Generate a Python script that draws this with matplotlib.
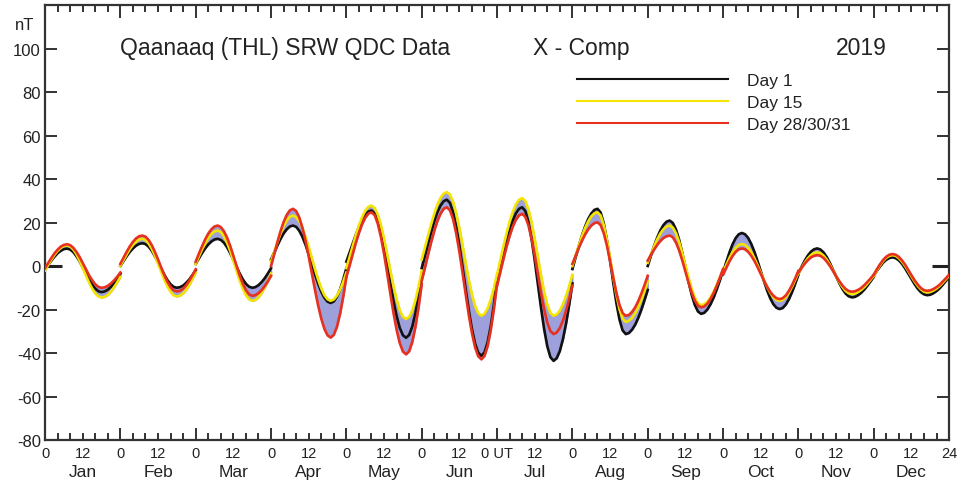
import matplotlib
matplotlib.use("Agg")
import matplotlib.pyplot as plt
import numpy as np

plt.rcParams['font.family'] = ['Liberation Sans', 'DejaVu Sans']
plt.rcParams['axes.unicode_minus'] = False

months = ["Jan", "Feb", "Mar", "Apr", "May", "Jun",
          "Jul", "Aug", "Sep", "Oct", "Nov", "Dec"]
hours = list(range(25))  # UT hour 0..24 inside each month panel

# quiet day curve, day 1 of each month (nT)
day1 = [
    [-1.5, 0.5, 2.5, 4.3, 5.9, 7.0, 7.8, 8.0, 7.6, 6.4, 4.5, 2.2, -0.6, -3.4, -6.2, -8.5, -10.4, -11.6, -12.0, -11.7, -10.9, -9.6, -7.8, -5.8, -3.5],
    [0.0, 2.3, 4.5, 6.5, 8.1, 9.4, 10.2, 10.5, 10.1, 8.9, 7.0, 4.5, 1.7, -1.2, -4.0, -6.5, -8.4, -9.6, -10.0, -9.7, -9.0, -7.7, -6.1, -4.1, -2.0],
    [1.0, 3.5, 5.9, 8.1, 9.9, 11.3, 12.2, 12.5, 12.0, 10.7, 8.6, 5.9, 2.9, -0.4, -3.4, -6.1, -8.2, -9.5, -10.0, -9.7, -8.8, -7.4, -5.6, -3.4, -1.0],
    [3.0, 6.2, 9.4, 12.4, 15.0, 16.9, 18.2, 18.6, 18.0, 16.2, 13.4, 9.7, 5.4, 0.8, -3.8, -8.1, -11.8, -14.6, -16.4, -17.0, -16.3, -14.1, -10.7, -6.2, -1.0],
    [2.0, 6.1, 10.2, 14.3, 18.0, 21.1, 23.5, 25.0, 25.5, 24.3, 20.9, 15.4, 8.4, 0.4, -7.9, -15.9, -22.9, -28.4, -31.8, -33.0, -31.7, -27.8, -21.6, -13.4, -3.7],
    [-1.0, 4.4, 10.1, 15.5, 20.5, 24.7, 27.8, 29.8, 30.5, 29.0, 24.8, 18.1, 9.5, -0.3, -10.5, -20.3, -28.9, -35.6, -39.8, -41.3, -39.7, -35.0, -27.6, -17.7, -6.0],
    [-8.0, -1.6, 4.7, 10.8, 16.2, 20.8, 24.2, 26.3, 27.0, 25.3, 20.3, 12.4, 2.6, -8.3, -19.2, -29.0, -36.9, -41.9, -43.6, -42.4, -39.1, -33.6, -26.4, -17.7, -8.0],
    [-1.4, 3.9, 9.0, 13.8, 18.0, 21.5, 24.1, 25.8, 26.3, 24.6, 19.6, 11.9, 2.5, -7.5, -16.9, -24.6, -29.6, -31.3, -30.8, -29.3, -27.0, -23.8, -20.0, -15.6, -11.0],
    [0.0, 4.7, 9.1, 13.0, 16.3, 18.8, 20.4, 20.9, 19.8, 16.8, 12.1, 6.1, -0.5, -7.2, -13.2, -17.9, -20.9, -22.0, -21.5, -20.0, -17.6, -14.5, -10.7, -6.5, -2.0],
    [-3.0, 1.7, 6.1, 9.9, 12.8, 14.6, 15.2, 14.6, 12.9, 10.1, 6.5, 2.2, -2.3, -6.8, -11.1, -14.7, -17.5, -19.2, -19.8, -19.3, -17.7, -15.2, -11.9, -8.1, -4.0],
    [-3.5, -0.4, 2.4, 4.8, 6.6, 7.7, 8.1, 7.6, 6.3, 4.2, 1.5, -1.6, -4.8, -7.8, -10.5, -12.6, -13.9, -14.4, -14.2, -13.4, -12.3, -10.8, -9.0, -7.0, -5.0],
    [-4.5, -2.2, -0.2, 1.6, 2.9, 3.7, 4.0, 3.6, 2.6, 1.0, -1.1, -3.5, -5.9, -8.3, -10.4, -12.0, -13.0, -13.4, -13.2, -12.5, -11.5, -10.2, -8.6, -6.8, -5.0],
]

# day 15
day15 = [
    [-2.0, 0.5, 2.9, 5.1, 6.9, 8.3, 9.2, 9.5, 9.0, 7.6, 5.4, 2.5, -0.8, -4.2, -7.5, -10.4, -12.6, -14.0, -14.5, -14.2, -13.3, -11.8, -9.8, -7.5, -5.0],
    [0.0, 2.7, 5.3, 7.7, 9.7, 11.2, 12.2, 12.5, 12.0, 10.4, 7.9, 4.8, 1.1, -2.6, -6.3, -9.4, -11.9, -13.5, -14.0, -13.6, -12.6, -10.9, -8.6, -5.9, -3.0],
    [1.0, 4.3, 7.5, 10.4, 12.9, 14.7, 15.9, 16.3, 15.6, 13.7, 10.7, 6.9, 2.4, -2.1, -6.6, -10.4, -13.4, -15.3, -16.0, -15.6, -14.4, -12.4, -9.9, -6.8, -3.5],
    [2.0, 6.4, 10.7, 14.8, 18.3, 20.9, 22.6, 23.2, 22.5, 20.6, 17.5, 13.4, 8.7, 3.6, -1.5, -6.2, -10.3, -13.4, -15.3, -16.0, -15.4, -13.6, -10.9, -7.2, -3.0],
    [-1.0, 4.0, 9.1, 14.1, 18.6, 22.5, 25.4, 27.2, 27.8, 26.7, 23.7, 18.8, 12.5, 5.4, -2.0, -9.1, -15.4, -20.3, -23.3, -24.4, -23.4, -20.5, -15.8, -9.5, -2.2],
    [3.0, 8.4, 13.9, 19.2, 24.1, 28.2, 31.4, 33.3, 34.0, 32.8, 29.5, 24.2, 17.4, 9.6, 1.5, -6.3, -13.1, -18.4, -21.7, -22.9, -22.0, -19.5, -15.4, -10.1, -3.7],
    [-4.0, 2.4, 8.8, 14.9, 20.4, 24.9, 28.3, 30.5, 31.2, 29.9, 26.0, 20.1, 12.5, 4.2, -4.2, -11.8, -17.7, -21.6, -22.9, -22.3, -20.5, -17.6, -13.7, -9.1, -4.0],
    [0.0, 4.7, 9.2, 13.5, 17.3, 20.4, 22.8, 24.2, 24.7, 23.2, 18.8, 12.1, 3.9, -4.9, -13.1, -19.8, -24.2, -25.7, -25.2, -23.9, -21.7, -18.8, -15.3, -11.3, -7.0],
    [1.5, 5.3, 8.9, 12.2, 14.9, 16.9, 18.2, 18.6, 17.7, 15.1, 11.1, 6.0, 0.3, -5.4, -10.5, -14.5, -17.1, -18.0, -17.6, -16.4, -14.4, -11.8, -8.7, -5.2, -1.5],
    [-3.0, 0.4, 3.6, 6.3, 8.3, 9.7, 10.1, 9.7, 8.4, 6.3, 3.6, 0.4, -3.0, -6.3, -9.5, -12.2, -14.3, -15.6, -16.0, -15.6, -14.3, -12.2, -9.5, -6.4, -3.0],
    [-3.5, -0.9, 1.5, 3.5, 5.0, 6.0, 6.3, 5.9, 4.8, 3.0, 0.7, -1.9, -4.7, -7.3, -9.6, -11.4, -12.5, -12.9, -12.7, -12.0, -11.0, -9.7, -8.1, -6.3, -4.5],
    [-4.5, -2.0, 0.3, 2.3, 3.8, 4.7, 5.0, 4.7, 3.6, 2.0, 0.0, -2.3, -4.8, -7.1, -9.1, -10.7, -11.8, -12.1, -11.9, -11.3, -10.4, -9.2, -7.7, -6.1, -4.5],
]

# last day of the month (28/30/31)
day_last = [
    [-1.0, 1.4, 3.7, 5.8, 7.5, 8.9, 9.7, 10.0, 9.6, 8.4, 6.5, 4.2, 1.4, -1.4, -4.2, -6.5, -8.4, -9.6, -10.0, -9.8, -9.1, -8.0, -6.6, -4.9, -3.0],
    [1.0, 3.8, 6.5, 9.0, 11.1, 12.7, 13.7, 14.0, 13.5, 12.0, 9.6, 6.5, 3.0, -0.7, -4.2, -7.3, -9.7, -11.2, -11.7, -11.4, -10.4, -8.8, -6.7, -4.2, -1.5],
    [2.0, 5.6, 9.0, 12.2, 14.9, 16.9, 18.2, 18.6, 17.9, 16.0, 13.0, 9.2, 4.7, 0.2, -4.3, -8.1, -11.1, -13.0, -13.7, -13.4, -12.5, -11.1, -9.2, -7.0, -4.5],
    [0.0, 5.4, 10.8, 15.9, 20.2, 23.5, 25.6, 26.3, 25.3, 22.3, 17.6, 11.5, 4.4, -3.3, -11.0, -18.1, -24.2, -28.9, -31.9, -32.9, -31.6, -27.9, -21.9, -14.1, -5.0],
    [-5.0, 0.1, 5.4, 10.6, 15.2, 19.2, 22.2, 24.1, 24.7, 23.4, 19.5, 13.4, 5.6, -3.3, -12.6, -21.5, -29.3, -35.4, -39.3, -40.6, -39.2, -34.9, -28.0, -19.0, -8.3],
    [-6.8, -1.0, 5.1, 10.9, 16.2, 20.7, 24.1, 26.3, 27.0, 25.6, 21.5, 14.9, 6.6, -3.0, -12.9, -22.5, -30.8, -37.4, -41.5, -42.9, -41.3, -36.8, -29.4, -19.7, -8.3],
    [-9.0, -3.0, 3.0, 8.7, 13.8, 18.1, 21.3, 23.3, 24.0, 22.6, 18.7, 12.6, 4.9, -3.7, -12.2, -19.9, -26.0, -29.9, -31.3, -30.6, -28.5, -25.1, -20.5, -15.1, -9.0],
    [1.0, 4.6, 8.2, 11.5, 14.4, 16.8, 18.6, 19.7, 20.1, 18.8, 15.1, 9.4, 2.3, -5.1, -12.2, -17.9, -21.6, -22.9, -22.5, -21.1, -19.0, -16.1, -12.6, -8.7, -4.5],
    [2.5, 5.1, 7.5, 9.7, 11.5, 12.9, 13.7, 14.0, 13.2, 10.8, 7.2, 2.6, -2.5, -7.6, -12.2, -15.9, -18.2, -19.0, -18.6, -17.3, -15.2, -12.4, -9.0, -5.3, -1.4],
    [-4.0, -0.9, 2.1, 4.6, 6.5, 7.7, 8.1, 7.7, 6.5, 4.7, 2.3, -0.5, -3.6, -6.6, -9.4, -11.8, -13.6, -14.8, -15.2, -14.8, -13.5, -11.4, -8.7, -5.6, -2.2],
    [-3.0, -0.9, 1.1, 2.7, 4.0, 4.7, 5.0, 4.7, 3.7, 2.1, 0.1, -2.2, -4.6, -6.9, -8.9, -10.5, -11.5, -11.8, -11.6, -11.0, -10.1, -8.8, -7.3, -5.7, -4.0],
    [-4.0, -1.5, 0.8, 2.8, 4.3, 5.2, 5.5, 5.2, 4.2, 2.6, 0.6, -1.8, -4.2, -6.5, -8.5, -10.1, -11.1, -11.4, -11.2, -10.6, -9.7, -8.6, -7.1, -5.6, -4.0],
]

c_blue = "#7478cc"
c_black = "#111111"
c_yellow = "#f4e500"
c_red = "#e8301f"
ink = "#222222"

fig = plt.figure(figsize=(9.64, 4.85), dpi=100)
ax = fig.add_axes([0.0467, 0.0907, 0.9378, 0.8969])

for m in range(12):
    x = 24 * m + np.array(hours)
    d1 = np.array(day1[m])
    d15 = np.array(day15[m])
    dl = np.array(day_last[m])
    lo = np.minimum(np.minimum(d1, d15), dl)
    hi = np.maximum(np.maximum(d1, d15), dl)
    # the other days of the month sit in between
    ax.fill_between(x, lo, hi, color=c_blue, alpha=0.7, lw=1.0, zorder=2)
    ax.plot(x, d1, color=c_black, lw=1.9, zorder=3, label="Day 1" if m == 0 else None)
    ax.plot(x, d15, color=c_yellow, lw=1.9, zorder=4, label="Day 15" if m == 0 else None)
    ax.plot(x, dl, color=c_red, lw=1.9, zorder=5, label="Day 28/30/31" if m == 0 else None)

ax.set_xlim(0, 288)
ax.set_ylim(-80, 120)

# x ticks: long ones at month starts, short ones every 4 h
major = list(range(0, 289, 24))
major_lbl = ["0"] * 12 + ["24"]
major_lbl[6] = "0 UT"
ax.set_xticks(major, labels=major_lbl)
minor = [24 * m + h for m in range(12) for h in (4, 8, 12, 16, 20)]
minor_lbl = ["12" if h % 24 == 12 else "" for h in minor]
ax.set_xticks(minor, labels=minor_lbl, minor=True)

ax.set_yticks(range(-80, 101, 20))
ax.yaxis.remove_overlapping_locs = False
ax.set_yticks([0], minor=True)
ax.set_yticklabels([], minor=True)

ax.tick_params(axis="x", which="both", direction="in", top=True, bottom=True,
               labelsize=10.5, pad=4.5, colors=ink, width=1.3)
ax.tick_params(axis="x", which="major", length=9)
ax.tick_params(axis="x", which="minor", length=5)
ax.tick_params(axis="y", which="both", direction="in", left=True, right=True,
               labelsize=12, pad=3, colors=ink)
ax.tick_params(axis="y", which="major", length=8.5, width=1.3)
ax.tick_params(axis="y", which="minor", length=12.5, width=2.2)

for s in ax.spines.values():
    s.set_linewidth(1.6)
    s.set_color("#333333")

for m, name in enumerate(months):
    ax.text(24 * m + 12, -0.072, name, transform=ax.get_xaxis_transform(),
            ha="center", va="center", fontsize=12.5, color=ink)

ax.text(-6.4, 111, "nT", ha="center", va="center", fontsize=12, color=ink, clip_on=False)
ax.text(24, 100.5, "Qaanaaq (THL) SRW QDC Data", ha="left", va="center",
        fontsize=16.5, color=ink)
ax.text(155.5, 100.5, "X - Comp", ha="left", va="center", fontsize=16.5, color=ink)
ax.text(252, 100.5, "2019", ha="left", va="center", fontsize=16.5, color=ink)

leg = ax.legend(loc="upper left", bbox_to_anchor=(0.588, 0.843), frameon=False,
                fontsize=12.5, handlelength=8.7, handletextpad=1.1, labelspacing=0.38,
                borderpad=0, borderaxespad=0, labelcolor=ink)
for ln in leg.get_lines():
    ln.set_linewidth(1.5)

fig.savefig("out.png", dpi=100)
